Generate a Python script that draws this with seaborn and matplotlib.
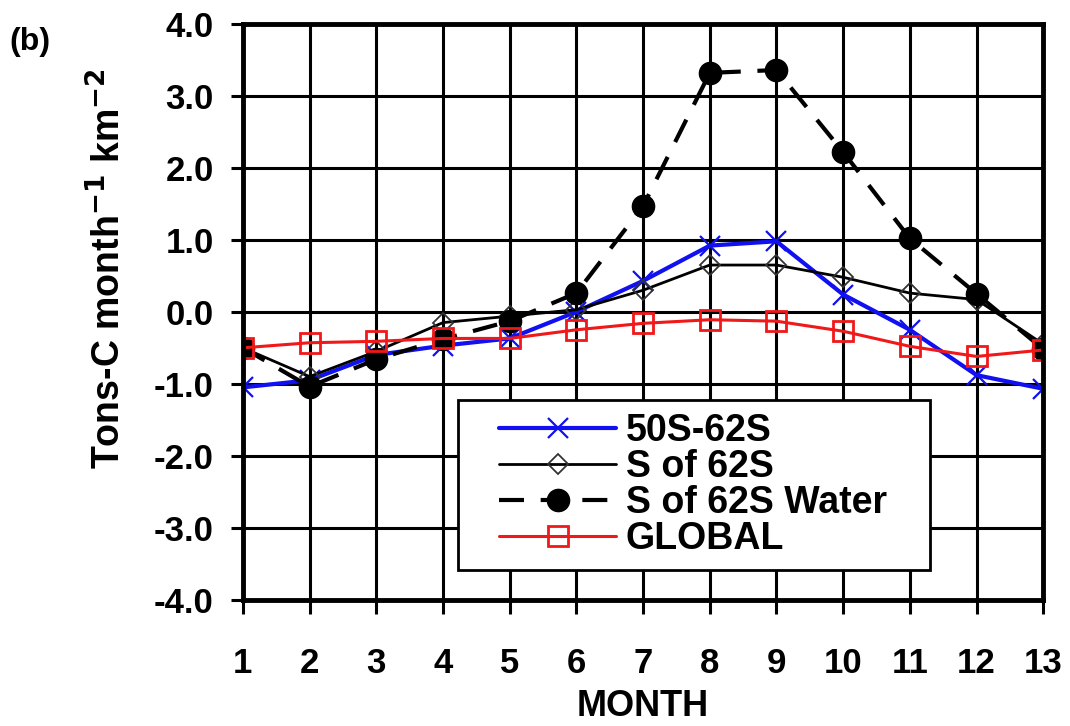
import matplotlib
matplotlib.use("Agg")
import matplotlib.pyplot as plt
import seaborn as sns
import pandas as pd
from matplotlib.lines import Line2D
from matplotlib.legend_handler import HandlerLine2D
from matplotlib.ticker import FormatStrFormatter

# Monthly carbon flux per unit area (Tons-C month^-1 km^-2)
months = list(range(1, 14))
s50_62 = [-1.05, -0.95, -0.6, -0.47, -0.37, 0.0, 0.43, 0.92, 0.98, 0.24, -0.25, -0.88, -1.07]
s_of_62 = [-0.5, -0.9, -0.55, -0.15, -0.06, 0.03, 0.3, 0.65, 0.65, 0.48, 0.26, 0.17, -0.45]
s_of_62_water = [-0.5, -1.04, -0.66, -0.38, -0.13, 0.26, 1.47, 3.32, 3.36, 2.22, 1.02, 0.25, -0.52]
global_flux = [-0.5, -0.43, -0.41, -0.37, -0.37, -0.25, -0.16, -0.11, -0.13, -0.27, -0.48, -0.62, -0.53]

series_names = ["50S-62S", "S of 62S", "S of 62S Water", "GLOBAL"]
y_ticks = [-4.0, -3.0, -2.0, -1.0, 0.0, 1.0, 2.0, 3.0, 4.0]

sns.set_theme(style="white")
plt.rcParams["font.family"] = ["Liberation Sans", "DejaVu Sans"]
plt.rcParams["font.weight"] = "bold"
plt.rcParams["axes.unicode_minus"] = False
plt.rcParams["text.color"] = "black"
plt.rcParams["axes.labelcolor"] = "black"
plt.rcParams["xtick.color"] = "black"
plt.rcParams["ytick.color"] = "black"
plt.rcParams["legend.labelcolor"] = "black"

fig = plt.figure(figsize=(10.7, 7.26), dpi=100)
ax = fig.add_axes([0.227, 0.174, 0.748, 0.793])

df = pd.DataFrame({
    "month": months * 4,
    "flux": s50_62 + s_of_62 + s_of_62_water + global_flux,
    "series": sum([[n] * len(months) for n in series_names], []),
})

styles = {
    "50S-62S": dict(color="#1010f0", lw=3.0, marker="x", markersize=14, mew=1.6,
                    mec="#1010f0", linestyle="-"),
    "S of 62S": dict(color="black", lw=2.0, marker="D", markersize=10, mew=1.3,
                     mfc="none", mec="#333333", linestyle="-"),
    "S of 62S Water": dict(color="black", lw=3.0, marker="o", markersize=16,
                           mec="black", mew=1.0, linestyle=(0, (6, 4))),
    "GLOBAL": dict(color="#f01818", lw=2.2, marker="s", markersize=14, mew=2.0,
                   mfc="none", mec="#f01818", linestyle="-"),
}

for name in series_names:
    sub = df[df["series"] == name]
    sns.lineplot(data=sub, x="month", y="flux", ax=ax, label=name,
                 estimator=None, **styles[name])

ax.set_xlim(1, 13)
ax.set_ylim(-4, 4)
ax.set_xticks(months)
ax.set_yticks(y_ticks)
ax.yaxis.set_major_formatter(FormatStrFormatter("%.1f"))
ax.grid(True, color="black", lw=2.2)
ax.set_axisbelow(True)

for sp in ax.spines.values():
    sp.set_visible(True)
    sp.set_color("black")
    sp.set_linewidth(3.5)

ax.tick_params(axis="both", which="major", direction="out", color="black",
               labelcolor="black", width=2.2, labelsize=25)
ax.tick_params(axis="y", length=9, pad=12)
ax.tick_params(axis="x", length=10, pad=24)
ax.tick_params(left=True, bottom=True)
for lbl in ax.get_xticklabels() + ax.get_yticklabels():
    lbl.set_fontweight("bold")

ax.set_xlabel("MONTH", fontsize=26, fontweight="bold", color="black")
ax.set_ylabel("Tons-C month$^{\\mathbf{-1}}$ km$^{\\mathbf{-2}}$", fontsize=27,
              fontweight="bold", color="black")
ax.xaxis.set_label_coords(0.5, -0.155)
ax.yaxis.set_label_coords(-0.143, 0.575)

leg = ax.legend(loc="upper left", bbox_to_anchor=(0.269, 0.347, 0.59, 0.0),
                mode="expand", fontsize=27, frameon=True, fancybox=False,
                edgecolor="black", framealpha=1, handlelength=3.85,
                handletextpad=0.27, labelspacing=0.0, borderpad=0.35,
                borderaxespad=0,
                handler_map={Line2D: HandlerLine2D(xpad=0.75)})
leg.get_frame().set_linewidth(2.0)
for t in leg.get_texts():
    t.set_fontweight("bold")
    t.set_color("black")

fig.text(0.009, 0.942, "(b)", fontsize=23, fontweight="bold", va="center",
         color="black")

fig.savefig("out.png", dpi=100, facecolor="white")
